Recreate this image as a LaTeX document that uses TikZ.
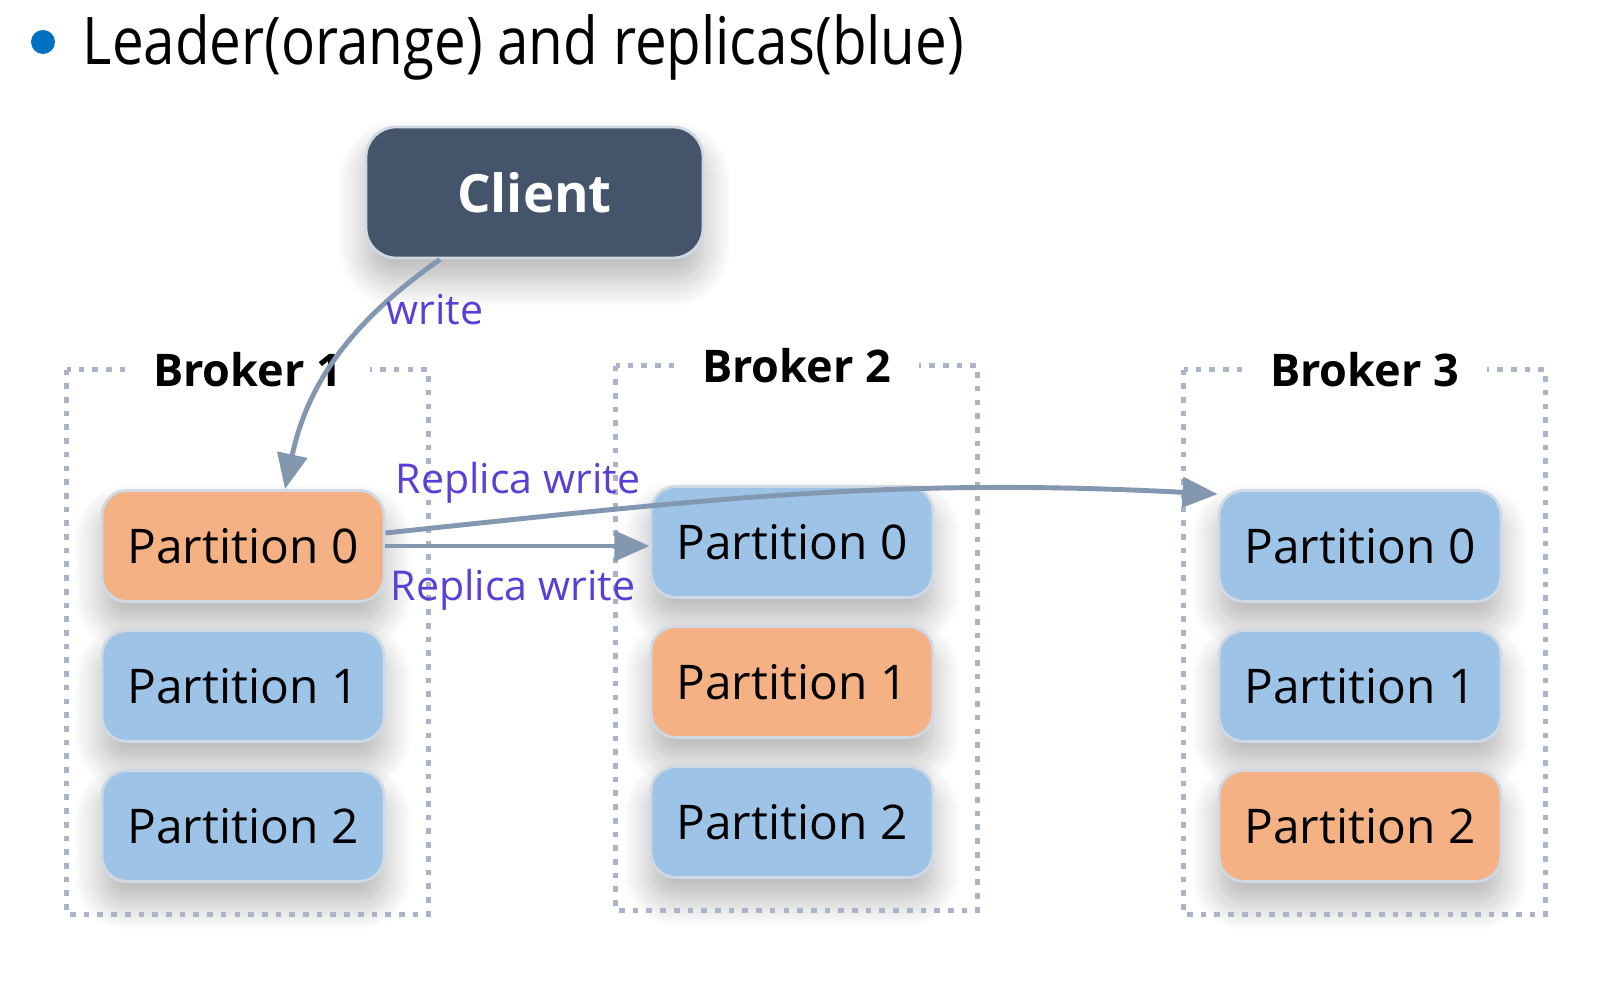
\documentclass[tikz,border=0pt]{standalone}
\usepackage{fontspec}
\setmainfont{Open Sans}
\usepackage{graphicx}
\usepackage{xcolor}
\definecolor{KafkaNavy}{HTML}{44546A}
\definecolor{KafkaOrange}{HTML}{F4B183}
\definecolor{KafkaBlue}{HTML}{9DC3E6}
\definecolor{KafkaEdge}{HTML}{D0D8E4}
\definecolor{KafkaArrow}{HTML}{8497B0}
\definecolor{KafkaDots}{HTML}{A9B4C6}
\definecolor{KafkaLabel}{HTML}{5A3FD6}
\definecolor{KafkaBullet}{HTML}{0070C0}
\usetikzlibrary{calc}
\usetikzlibrary{arrows.meta}
\usetikzlibrary{shadows.blur}
\tikzset{>=latex}
\tikzstyle{myarr}=[-{Triangle[length=10pt,width=8.5pt]},KafkaArrow,line width=1.4pt]
\tikzstyle{softshadow}=[blur shadow={shadow xshift=0pt,shadow yshift=-6pt,shadow blur radius=8pt,shadow blur steps=20,shadow opacity=30}]
\tikzstyle{partbox}=[rounded corners=0.25cm,minimum width=2.82cm,minimum height=1.11cm,draw=KafkaEdge,line width=0.8pt,font=\fontsize{13.6}{16}\selectfont,softshadow]

\begin{document}
\begin{tikzpicture}[brokerframe/.style={KafkaDots,line width=1.6pt,dash pattern=on 1.6pt off 2.3pt},
	brokerlabel/.style={fill=white,inner xsep=8pt,inner ysep=2pt,font=\bfseries\fontsize{12.8}{14}\selectfont},
	arrlabel/.style={KafkaLabel,inner sep=1pt,font=\fontsize{11.7}{13}\selectfont}]
		
		\useasboundingbox (0,0) rectangle (16.1,9.99);
		
		\def\PartGap{1.40}
		
		%% TITLE
		\fill[KafkaBullet] (0.43,9.57) circle (0.12);
		\node[anchor=base west,inner sep=0,font=\fontsize{18.7}{22}\selectfont] (title) at (0.82,9.34) {\scalebox{0.86}[1]{Leader(orange) and replicas(blue)}};
		
		
		%% CLIENT
		\node[rounded corners=0.3cm,minimum width=3.37cm,minimum height=1.31cm,fill=KafkaNavy,draw=KafkaEdge,line width=0.8pt,text=white,font=\bfseries\fontsize{15}{18}\selectfont,softshadow] (client) at (5.345,8.065) {Client};
		
		
		%% BROKERS AND PARTITIONS
		\foreach \brk/\bx/\by/\lead in {1/2.43/4.53/0,2/7.92/4.57/1,3/13.60/4.53/2}{
			\foreach \p in {0,1,2}{
				\ifnum\p=\lead \def\pcol{KafkaOrange}\else \def\pcol{KafkaBlue}\fi
				\node[partbox,fill=\pcol] (b\brk p\p) at (\bx,{\by-\p*\PartGap}) {Partition \p};
			}
			\coordinate (b\brk tl) at ($(b\brk p0.north west)+(-0.34,1.195)$);
			\coordinate (b\brk br) at ($(b\brk p2.south east)+(0.43,-0.315)$);
			\draw[brokerframe] (b\brk tl) rectangle (b\brk br);
			\node[brokerlabel] (b\brk label) at ($(b\brk tl)!0.5!(b\brk tl -| b\brk br)$) {Broker \brk};
		}
		
		
		%% WRITE FROM CLIENT
		\draw[myarr] ([xshift=-0.945cm]client.south) to[out=215,in=78] ([xshift=0.42cm]b1p0.north);
		\node[arrlabel] (writelabel) at (4.35,6.89) {write};
		
		
		%% REPLICA WRITES
		\draw[myarr] ([yshift=0.13cm]b1p0.east) to[out=6,in=177] (b3p0.160);
		\draw[myarr] (b1p0.east) -- (b1p0.east -| b2p0.west);
		\node[arrlabel] (replabelA) at (5.18,5.16) {Replica write};
		\node[arrlabel] (replabelB) at (5.13,4.09) {Replica write};
		
	\end{tikzpicture}
\end{document}
